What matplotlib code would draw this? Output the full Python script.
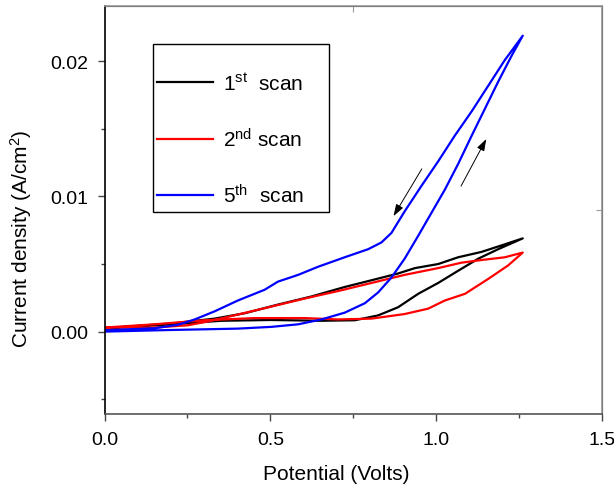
import matplotlib
matplotlib.use('Agg')
import matplotlib.pyplot as plt
from matplotlib.patches import Rectangle

plt.rcParams['font.family'] = ['Liberation Sans', 'DejaVu Sans']
plt.rcParams['mathtext.fontset'] = 'custom'
plt.rcParams['mathtext.rm'] = 'Liberation Sans'
plt.rcParams['mathtext.it'] = 'Liberation Sans:italic'

# 1st scan (forward then reverse), potential in V, current density in A/cm2
scan1_v = [0.0, 0.201, 0.352, 0.503, 0.654, 0.755, 0.825, 0.885, 0.946, 1.006,
           1.066, 1.127, 1.187, 1.261,
           1.187, 1.137, 1.066, 1.006, 0.936, 0.885, 0.805, 0.724, 0.624, 0.523,
           0.423, 0.332, 0.201, 0.0]
scan1_j = [0.00025, 0.00054, 0.0008, 0.00086, 0.0008, 0.00084, 0.0012, 0.0018, 0.0028, 0.0036,
           0.0045, 0.0054, 0.0061, 0.0069,
           0.0063, 0.0059, 0.0055, 0.0050, 0.0047, 0.0043, 0.0038, 0.0033, 0.0026, 0.0020,
           0.00136, 0.00096, 0.0006, 0.00025]

# 2nd scan
scan2_v = [0.0, 0.151, 0.302, 0.453, 0.604, 0.704, 0.805, 0.905, 0.976, 1.026,
           1.087, 1.157, 1.217, 1.261,
           1.207, 1.137, 1.076, 1.006, 0.905, 0.805, 0.704, 0.604, 0.503, 0.402,
           0.322, 0.252, 0.151, 0.0]
scan2_j = [0.0003, 0.00054, 0.00084, 0.001, 0.001, 0.0009, 0.00096, 0.0013, 0.0017, 0.0023,
           0.0028, 0.0039, 0.0049, 0.00585,
           0.0055, 0.0053, 0.0051, 0.0047, 0.0042, 0.0036, 0.0030, 0.00245, 0.00185, 0.00126,
           0.0008, 0.00047, 0.0003, 0.0003]

# 5th scan
scan5_v = [0.0, 0.201, 0.402, 0.503, 0.584, 0.654, 0.724, 0.785, 0.825, 0.865,
           0.905, 0.946, 0.986, 1.026, 1.066, 1.107, 1.147, 1.187, 1.227, 1.261,
           1.207, 1.157, 1.107, 1.056, 1.006, 0.956, 0.905, 0.865, 0.835, 0.795,
           0.724, 0.644, 0.584, 0.523, 0.483, 0.402, 0.332, 0.272, 0.221, 0.151, 0.0]
scan5_j = [0.0, 0.00012, 0.00022, 0.00035, 0.00054, 0.0009, 0.0014, 0.0021, 0.0029, 0.0040,
           0.0054, 0.0071, 0.0088, 0.0105, 0.0124, 0.0145, 0.0165, 0.0185, 0.0204, 0.0219,
           0.0201, 0.0182, 0.0163, 0.0145, 0.0126, 0.0108, 0.0089, 0.0073, 0.0066, 0.0061,
           0.0055, 0.0048, 0.0042, 0.0037, 0.0031, 0.0023, 0.0015, 0.0009, 0.0005, 0.00025, 0.0001]

labels = ['1$^{\\mathrm{st}}$  scan', '2$^{\\mathrm{nd}}$ scan', '5$^{\\mathrm{th}}$  scan']
colors = ['black', '#ff0000', '#0000ff']

# scan direction arrows: (tail, head)
arrow_down = ((0.961, 0.01222), (0.867, 0.00837))
arrow_up = ((1.071, 0.01059), (1.155, 0.01444))

fig = plt.figure(figsize=(6.14, 4.85), dpi=100)
ax = fig.add_axes([0.1702, 0.1443, 0.8103, 0.8413])

for v, j, lab, c in zip([scan1_v, scan2_v, scan5_v], [scan1_j, scan2_j, scan5_j], labels, colors):
    ax.plot(v, j, color=c, lw=1.6, label=lab)

for tail, head in [arrow_down, arrow_up]:
    ax.annotate('', xy=head, xytext=tail,
                arrowprops=dict(arrowstyle='-|>,head_length=0.6,head_width=0.2',
                                color='black', lw=0.7, mutation_scale=12))

ax.set_xlim(0, 1.5)
ax.set_ylim(-0.0061, 0.0241)
ax.set_xticks([0.0, 0.5, 1.0, 1.5])
ax.set_xticklabels(['0.0', '0.5', '1.0', '1.5'])
ax.set_xticks([0.25, 0.75, 1.25], minor=True)
ax.set_yticks([0.0, 0.01, 0.02])
ax.set_yticklabels(['0.00', '0.01', '0.02'])
ax.set_yticks([-0.005, 0.005, 0.015], minor=True)
ax.tick_params(axis='both', which='major', direction='out', length=5, width=1,
               labelsize=14, pad=7, color='#444444')
ax.tick_params(axis='both', which='minor', direction='out', length=3, width=1, color='#444444')

ax.spines['left'].set_color('black')
ax.spines['bottom'].set_color('#555555')
ax.spines['top'].set_color('#999999')
ax.spines['right'].set_color('#999999')
for s in ax.spines.values():
    s.set_linewidth(1.2)

# top / right axes with their single inward ticks
top = ax.secondary_xaxis('top')
top.set_xticks([0.75])
top.tick_params(direction='in', length=4, labeltop=False, color='#999999')
right = ax.secondary_yaxis('right')
right.set_yticks([0.009])
right.tick_params(direction='in', length=4, labelright=False, color='#999999')

ax.set_xlabel('Potential (Volts)', fontsize=15)
ax.set_ylabel('Current density (A/cm$^2$)', fontsize=15)
ax.xaxis.set_label_coords(0.465, -0.122)
ax.yaxis.set_label_coords(-0.142, 0.431)

# legend entries without frame, frame drawn as a box of its own
leg = ax.legend(loc='upper left', bbox_to_anchor=(0.097, 0.848), borderaxespad=0,
                fontsize=15, frameon=False,
                handlelength=2.7, handletextpad=0.45, labelspacing=1.6, borderpad=0.2)
ax.add_patch(Rectangle((0.097, 0.496), 0.354, 0.411, transform=ax.transAxes,
                       fill=False, edgecolor='black', lw=1.0, zorder=5))

fig.savefig('out.png', dpi=100)
